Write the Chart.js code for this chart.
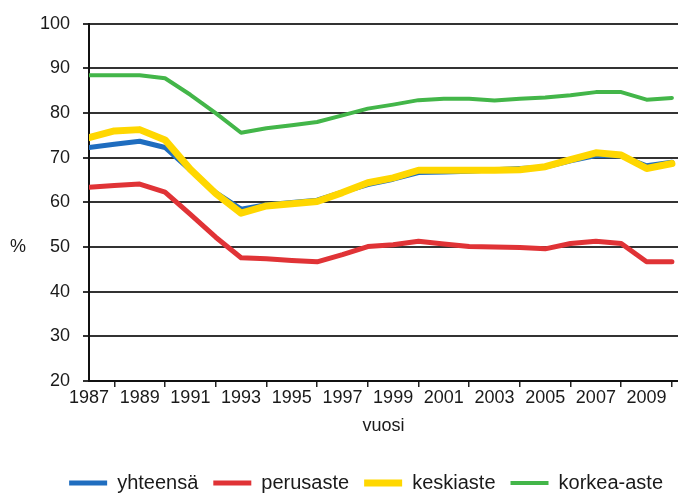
<!DOCTYPE html>
<html>
<head>
<meta charset="utf-8">
<script src="https://cdn.jsdelivr.net/npm/chart.js@4.4.0/dist/chart.umd.min.js"></script>
<style>
    html, body { margin: 0; padding: 0; background: #fff; }
    #wrap { width: 678px; height: 495px; }
</style>
</head>
<body>
<div id="wrap"><canvas id="chart"></canvas></div>
<script>
// years on the x axis
var years = [1987, 1988, 1989, 1990, 1991, 1992, 1993, 1994, 1995, 1996, 1997, 1998,
             1999, 2000, 2001, 2002, 2003, 2004, 2005, 2006, 2007, 2008, 2009, 2010];
// series (%)
var yhteensa   = [72.3, 73.0, 73.7, 72.3, 67.2, 62.2, 58.5, 59.5, 60.0, 60.5, 62.3, 64.0,
                  65.2, 66.7, 66.8, 67.0, 67.3, 67.6, 67.9, 69.3, 70.5, 70.4, 68.2, 69.0];
var perusaste  = [63.4, 63.8, 64.1, 62.3, 57.3, 52.2, 47.6, 47.4, 47.0, 46.7, 48.3, 50.1,
                  50.5, 51.3, 50.7, 50.1, 50.0, 49.9, 49.6, 50.8, 51.3, 50.8, 46.7, 46.7];
var keskiaste  = [74.5, 76.0, 76.3, 74.0, 67.4, 62.0, 57.6, 59.2, 59.7, 60.2, 62.2, 64.4,
                  65.5, 67.2, 67.2, 67.2, 67.2, 67.3, 68.0, 69.6, 71.1, 70.6, 67.6, 68.7];
var korkeaAste = [88.5, 88.5, 88.5, 87.8, 84.1, 80.0, 75.6, 76.6, 77.3, 78.0, 79.5, 81.0,
                  81.9, 82.9, 83.2, 83.2, 82.8, 83.2, 83.5, 84.0, 84.7, 84.7, 83.0, 83.4];
var yTicks = [20, 30, 40, 50, 60, 70, 80, 90, 100];

Chart.defaults.font.family = '"Liberation Sans", Arial, sans-serif';
Chart.defaults.color = '#1a1a1a';

function points(values) {
    return values.map(function (v, i) { return {x: years[i], y: v}; });
}

function series(label, values, color, width, order) {
    return {
        label: label,
        data: points(values),
        borderColor: color,
        backgroundColor: color,
        borderWidth: width,
        pointRadius: 0,
        tension: 0,
        borderJoinStyle: 'round',
        borderCapStyle: 'round',
        order: order
    };
}

// the "%" on the left, level with the 50 row
var percentLabel = {
    id: 'percentLabel',
    afterDraw: function (chart) {
        var ctx = chart.ctx;
        var y = chart.scales.y.getPixelForValue(50);
        ctx.save();
        ctx.font = '18px "Liberation Sans", Arial, sans-serif';
        ctx.fillStyle = '#1a1a1a';
        ctx.textAlign = 'center';
        ctx.textBaseline = 'middle';
        ctx.fillText('%', 18, y);
        ctx.restore();
    }
};

new Chart(document.getElementById('chart').getContext('2d'), {
    type: 'line',
    data: {
        datasets: [
            series('yhteensä', yhteensa, '#1f6dbf', 5, 1),
            series('perusaste', perusaste, '#e03336', 5, 2),
            series('keskiaste', keskiaste, '#ffd700', 7, 0),
            series('korkea-aste', korkeaAste, '#43b649', 4, 3)
        ]
    },
    options: {
        responsive: true,
        maintainAspectRatio: false,
        animation: false,
        layout: { padding: { top: 20, right: 0, left: 0, bottom: -8 } },
        plugins: {
            tooltip: { enabled: false },
            legend: {
                position: 'bottom',
                align: 'end',
                labels: {
                    usePointStyle: true,
                    pointStyle: 'line',
                    pointStyleWidth: 38,
                    padding: 15,
                    color: '#1a1a1a',
                    font: { size: 20 },
                    sort: function (a, b) { return a.datasetIndex - b.datasetIndex; }
                }
            }
        },
        scales: {
            x: {
                type: 'linear',
                min: 1987,
                max: 2010.24,
                afterBuildTicks: function (scale) {
                    scale.ticks = years.map(function (y) { return {value: y}; });
                },
                afterFit: function (scale) { scale.height = 77; },
                ticks: {
                    autoSkip: false,
                    maxRotation: 0,
                    padding: 0,
                    color: '#1a1a1a',
                    font: { size: 18 },
                    callback: function (v) { return v % 2 ? String(v) : ''; }
                },
                grid: {
                    drawOnChartArea: false,
                    drawTicks: true,
                    tickLength: 6,
                    lineWidth: 1.5,
                    color: function (c) {
                        return c.tick && c.tick.value % 2 === 0 ? '#222' : 'rgba(0,0,0,0)';
                    }
                },
                border: { color: '#111', width: 2 },
                title: {
                    display: true,
                    text: 'vuosi',
                    color: '#1a1a1a',
                    font: { size: 18 },
                    padding: { top: 7, bottom: 21 }
                }
            },
            y: {
                min: 20,
                max: 100,
                afterBuildTicks: function (scale) {
                    scale.ticks = yTicks.map(function (v) { return {value: v}; });
                },
                afterFit: function (scale) { scale.width = 89; },
                ticks: {
                    padding: 13,
                    color: '#1a1a1a',
                    font: { size: 18 }
                },
                grid: {
                    color: '#333',
                    lineWidth: 2,
                    tickLength: 6,
                    drawTicks: true
                },
                border: { color: '#111', width: 2 }
            }
        }
    },
    plugins: [percentLabel]
});
</script>
</body>
</html>
